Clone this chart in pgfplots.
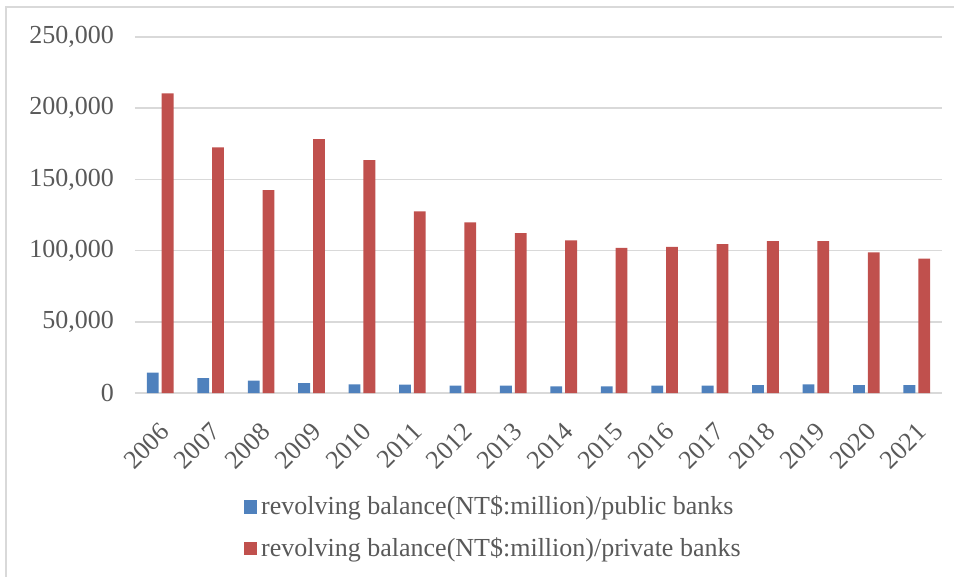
\documentclass[border=0pt]{standalone}
\usepackage{fontspec}
\setmainfont{Liberation Serif}
\usepackage{pgfplots}
\pgfplotsset{compat=1.18}
\definecolor{pubblue}{HTML}{4F81BD}
\definecolor{privred}{HTML}{C0504D}
\definecolor{gridgray}{HTML}{D9D9D9}
\definecolor{txtgray}{HTML}{595959}
\begin{document}
\begin{tikzpicture}
\useasboundingbox (0,0) rectangle (477pt,-288.5pt);
\draw[gridgray, line width=1.2pt] (3pt,-3.5pt) rectangle (495pt,-300pt);
\begin{axis}[
  at={(67.5pt,-196.5pt)}, anchor=south west,
  width=403.5pt, height=178pt, scale only axis,
  ybar=1.5pt, bar width=5.9pt,
  xmin=2005.5, xmax=2021.5, ymin=0, ymax=250000,
  xtick={2006,...,2021}, ytick={0,50000,...,250000},
  scaled y ticks=false,
  ymajorgrids, grid style={gridgray, line width=0.8pt},
  axis line style={draw=none},
  major tick length=0pt,
  /pgf/number format/assume math mode=true,
  tick label style={font=\fontsize{13}{15}\selectfont, text=txtgray},
  yticklabel style={xshift=-7pt, /pgf/number format/fixed, /pgf/number format/1000 sep={,}},
  xticklabel style={/pgf/number format/1000 sep={}, rotate=45, anchor=east, yshift=-14pt, xshift=-7pt},
  legend style={at={(0.445,-0.379)}, anchor=center, draw=none, fill=none,
    font=\fontsize{13}{15}\selectfont, text=txtgray, row sep=6pt},
  legend cell align=left,
  legend image code/.code={\fill[#1] (-0.5pt,-3.3pt) rectangle (6.3pt,3.3pt);},
]
\addplot[fill=pubblue, draw=none] coordinates {
 (2006,14300) (2007,10500) (2008,8700) (2009,7000) (2010,6100) (2011,5800)
 (2012,5100) (2013,5100) (2014,4700) (2015,4700) (2016,5100) (2017,5100)
 (2018,5600) (2019,6100) (2020,5600) (2021,5600)};
\addplot[fill=privred, draw=none] coordinates {
 (2006,210400) (2007,172500) (2008,142500) (2009,178300) (2010,163600) (2011,127500)
 (2012,119800) (2013,112300) (2014,107200) (2015,102000) (2016,102700) (2017,104600)
 (2018,106700) (2019,106700) (2020,98800) (2021,94300)};
\legend{revolving balance(NT\$:million)/public banks, revolving balance(NT\$:million)/private banks}
\end{axis}
\end{tikzpicture}
\end{document}
